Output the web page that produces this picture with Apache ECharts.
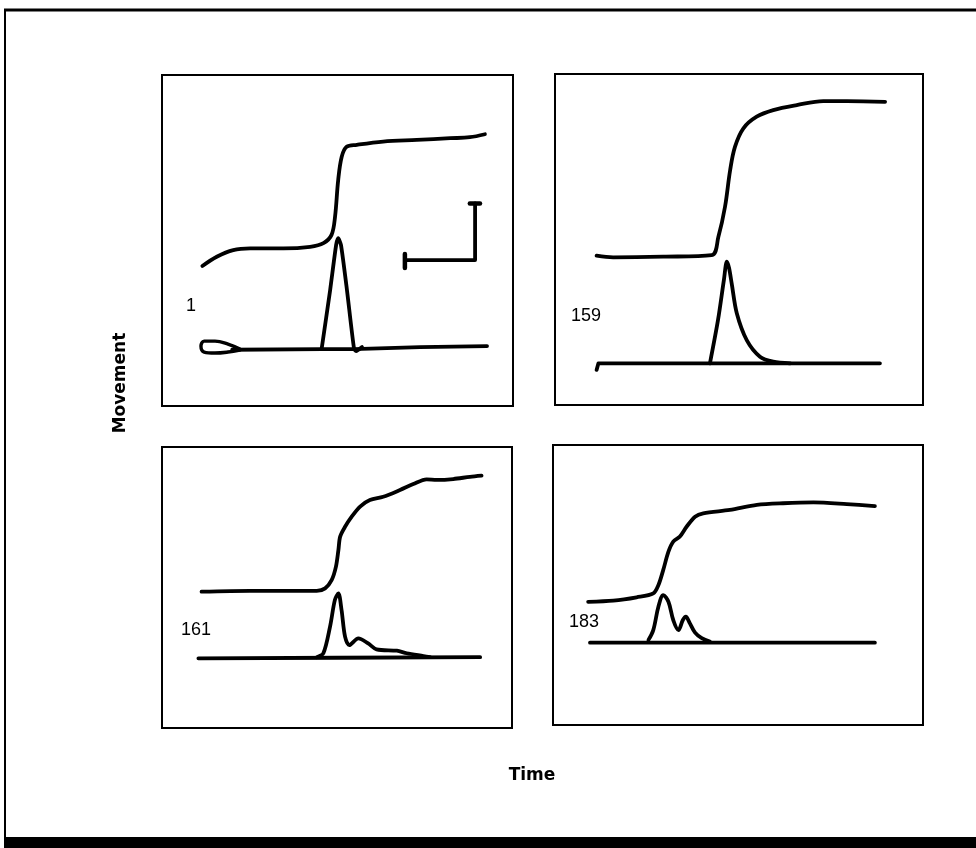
<!DOCTYPE html>
<html>
<head>
<meta charset="utf-8">
<script src="https://cdn.jsdelivr.net/npm/echarts@6/dist/echarts.min.js"></script>
<style>
html,body{margin:0;padding:0;background:#fff;}
#chart{width:976px;height:848px;}
</style>
</head>
<body>
<div id="chart"></div>
<script>
// ---- Data (time %, movement %) per panel ----
const panelLabels = ['1', '159', '161', '183'];
const axisTitleX = 'Time';
const axisTitleY = 'Movement';

// Panel 1 (trial 1)
const p1Position = [[11.5,42.3],[15.6,45.1],[20.3,47.1],[25.1,47.6],[34.6,47.6],[42.2,48.1],[46.0,49.2],[48.3,51.7],[49.3,57.2],[50.2,68.3],[51.2,75.3],[52.6,78.3],[55.5,78.9],[63.0,79.9],[72.6,80.4],[82.1,80.9],[87.7,81.2],[92.0,82.1]];
const p1Baseline = [[20.0,17.0],[45.6,17.2],[54.7,17.2],[73.5,17.8],[92.6,18.1]];
const p1Loop = [[22.2,17.2],[18.8,18.7],[15.1,19.6],[12.0,19.6],[11.1,18.1],[12.0,16.3],[15.1,16.0],[18.8,16.3],[22.2,16.9]];
const p1Velocity = [[45.5,17.4],[47.9,35.0],[49.6,48.6],[50.2,50.7],[51.0,48.6],[52.7,35.0],[54.7,17.4],[55.3,16.6],[57.0,17.8]];
const p1ScaleBar = [[69.2,44.1],[89.2,44.1],[89.2,61.2]];
const p1ScaleCapX = [[69.2,41.7],[69.2,45.9]];
const p1ScaleCapY = [[87.7,61.2],[90.6,61.2]];

// Panel 2 (trial 159)
const p2Position = [[11.3,45.1],[15.8,44.6],[29.4,44.8],[42.6,45.3],[44.4,50.8],[46.2,59.9],[47.6,71.0],[48.9,78.0],[51.2,83.6],[54.8,87.1],[59.3,89.1],[65.7,90.6],[72.9,91.8],[79.3,91.8],[89.7,91.6]];
const p2Baseline = [[11.3,10.6],[11.8,12.6],[42.1,12.6],[88.3,12.6]];
const p2Velocity = [[42.1,12.6],[44.3,25.7],[45.9,37.8],[46.7,43.3],[47.3,41.4],[48.0,36.8],[49.4,27.7],[52.1,19.6],[55.7,14.6],[59.3,13.1],[63.9,12.6]];

// Panel 3 (trial 161)
const p3Position = [[11.3,48.5],[25.1,48.8],[44.2,48.8],[46.6,49.7],[48.5,52.7],[49.7,57.4],[50.4,63.3],[50.9,68.1],[52.3,71.6],[54.2,75.2],[56.6,78.8],[59.4,81.1],[63.2,82.3],[68.0,84.7],[71.8,86.8],[75.6,88.5],[78.5,88.3],[83.2,88.6],[88.0,89.4],[91.3,89.8]];
const p3Baseline = [[10.4,24.8],[50.0,25.0],[90.9,25.2]];
const p3Velocity = [[44.2,25.2],[46.1,26.6],[48.0,36.0],[49.4,45.6],[50.4,47.9],[51.3,42.0],[52.3,32.5],[53.5,29.5],[56.1,31.9],[58.9,30.1],[61.3,28.0],[67.1,27.5],[69.9,26.6],[74.7,25.6],[76.6,25.2]];

// Panel 4 (trial 183)
const p4Position = [[9.5,44.0],[16.3,44.4],[22.6,45.6],[27.1,47.0],[28.5,50.0],[29.8,55.4],[31.2,61.9],[32.5,65.5],[34.3,67.3],[36.1,70.8],[38.4,74.4],[40.6,75.6],[47.8,76.8],[55.1,78.6],[62.2,79.2],[70.4,79.5],[79.4,78.9],[87.0,78.2]];
const p4Baseline = [[10.0,29.4],[50.0,29.4],[87.0,29.4]];
const p4Velocity = [[25.8,30.4],[27.1,33.9],[28.5,42.3],[29.8,46.4],[31.2,44.0],[32.5,37.5],[33.9,33.9],[35.1,37.5],[35.9,38.7],[37.0,36.3],[38.4,33.0],[40.2,31.0],[42.4,29.8]];

// ---- Layout ----
const grids = [
  {left:162, top:75, width:351, height:331},
  {left:555, top:74, width:368, height:331},
  {left:162, top:447, width:350, height:281},
  {left:553, top:445, width:370, height:280}
];
const labelPos = [[186,306],[571,316],[181,630],[569,622]];

const LW = 3.8;
function line(gi, data, smooth, w){
  return {type:'line', xAxisIndex:gi, yAxisIndex:gi, data:data, showSymbol:false, symbol:'none',
    smooth:smooth, lineStyle:{color:'#000', width:w||LW, cap:'round', join:'round'}, silent:true, animation:false, z:3};
}

const chart = echarts.init(document.getElementById('chart'), null, {renderer:'canvas'});
const option = {
  backgroundColor:'#fff',
  animation:false,
  grid: grids.map(g => Object.assign({show:true, borderColor:'#000', borderWidth:2, backgroundColor:'transparent'}, g)),
  xAxis: grids.map((g,i)=>({type:'value', gridIndex:i, min:0, max:100, show:false})),
  yAxis: grids.map((g,i)=>({type:'value', gridIndex:i, min:0, max:100, show:false})),
  series: [
    line(0, p1Position, 0.35), line(0, p1Baseline, false), line(0, p1Loop, 0.4, 3.4), line(0, p1Velocity, 0.2),
    line(0, p1ScaleBar, false, 3.8), line(0, p1ScaleCapX, false, 4.5), line(0, p1ScaleCapY, false, 4.5),
    line(1, p2Position, 0.35), line(1, p2Baseline, false), line(1, p2Velocity, 0.3),
    line(2, p3Position, 0.3), line(2, p3Baseline, false), line(2, p3Velocity, 0.3),
    line(3, p4Position, 0.3), line(3, p4Baseline, false), line(3, p4Velocity, 0.35)
  ],
  graphic: [
    // outer frame: top, left, bottom band
    {type:'line', shape:{x1:4, y1:10, x2:976, y2:10}, style:{stroke:'#000', lineWidth:3}},
    {type:'line', shape:{x1:5, y1:9, x2:5, y2:840}, style:{stroke:'#000', lineWidth:2}},
    {type:'rect', shape:{x:4, y:837, width:972, height:11}, style:{fill:'#000'}},
    // axis titles
    {type:'text', x:532, y:776, style:{text:axisTitleX, font:'bold 17px "DejaVu Sans"', fill:'#000', textAlign:'center', textVerticalAlign:'middle'}},
    {type:'text', x:121, y:383, rotation:Math.PI/2, style:{text:axisTitleY, font:'bold 17px "DejaVu Sans"', fill:'#000', textAlign:'center', textVerticalAlign:'middle'}}
  ].concat(panelLabels.map((t,i)=>({type:'text', x:labelPos[i][0], y:labelPos[i][1],
      style:{text:t, font:'18px "Liberation Sans"', fill:'#000', textAlign:'left', textVerticalAlign:'middle'}})))
};
chart.setOption(option);
</script>
</body>
</html>
